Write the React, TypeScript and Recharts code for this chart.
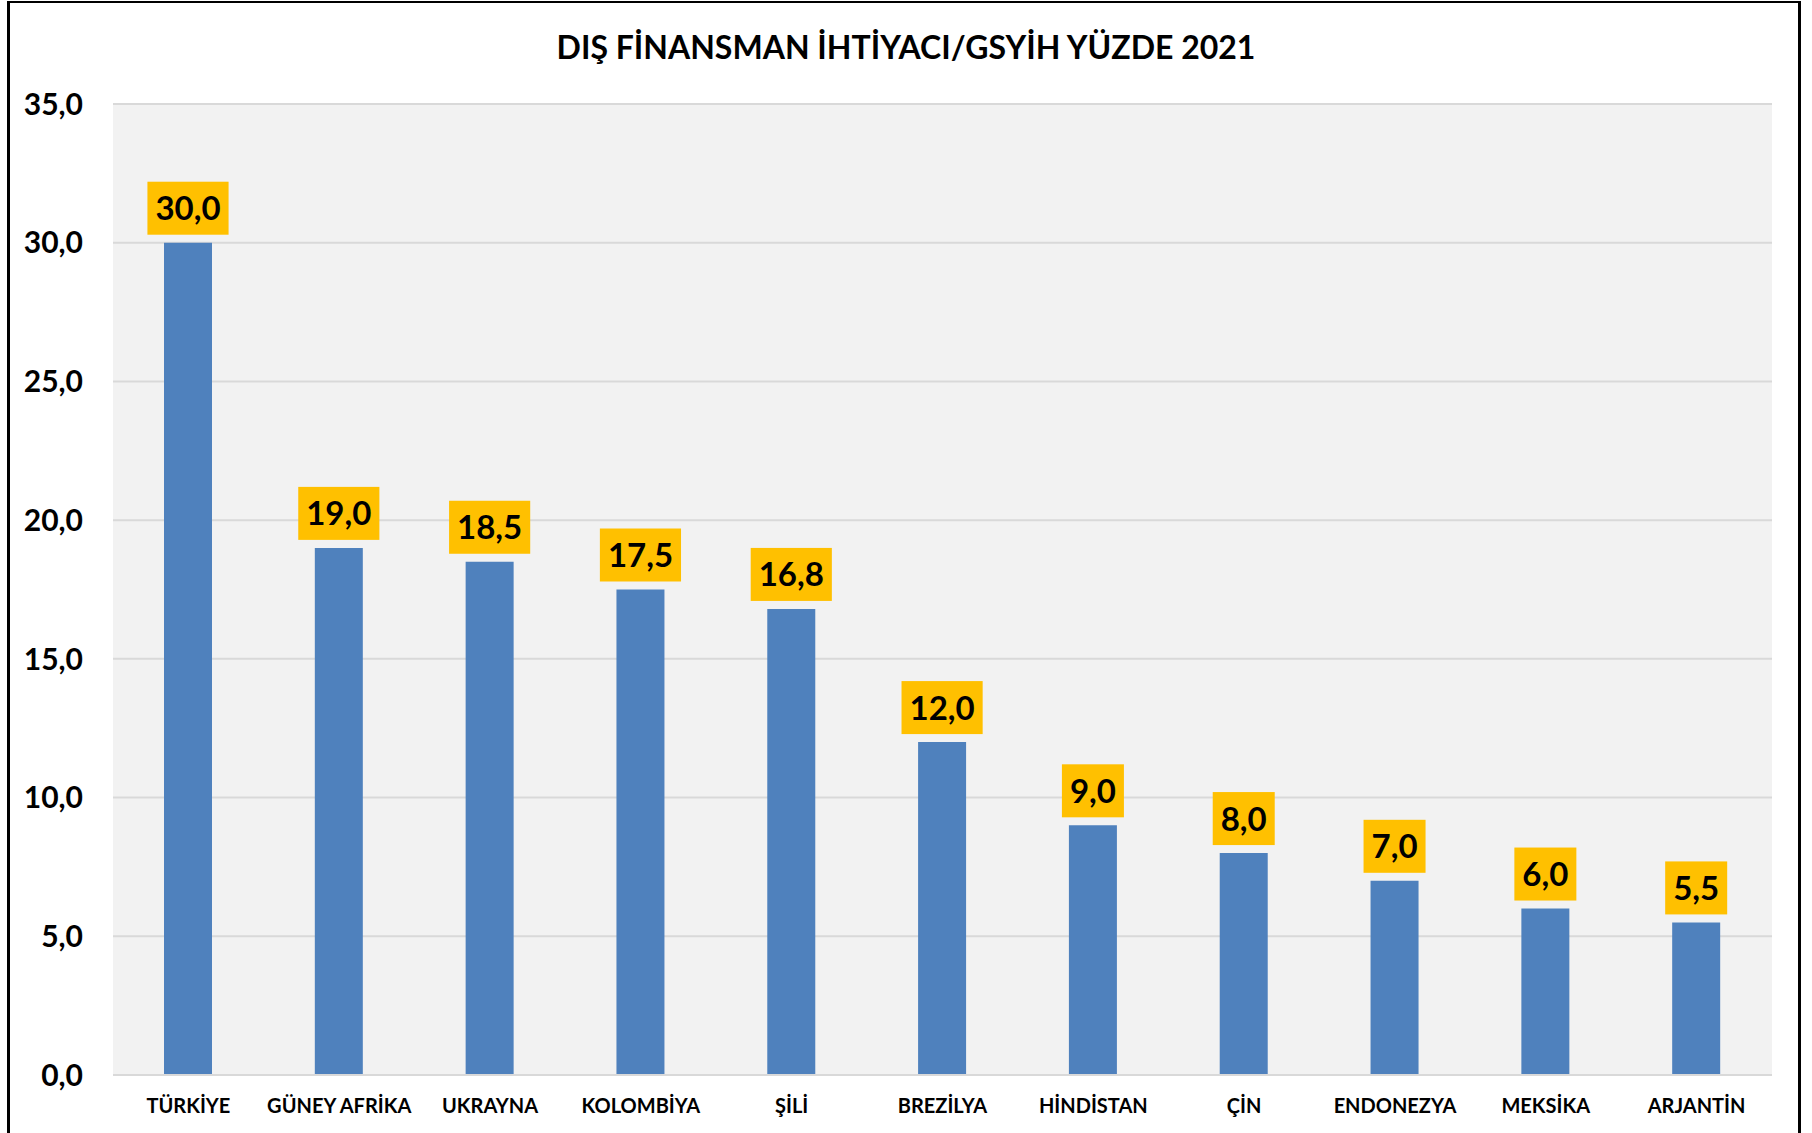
import { BarChart, Bar, XAxis, YAxis, CartesianGrid, LabelList } from "recharts";

const FONT = "Lato, 'Open Sans', sans-serif";

const countries = [
  "TÜRKİYE",
  "GÜNEY AFRİKA",
  "UKRAYNA",
  "KOLOMBİYA",
  "ŞİLİ",
  "BREZİLYA",
  "HİNDİSTAN",
  "ÇİN",
  "ENDONEZYA",
  "MEKSİKA",
  "ARJANTİN",
];
const financingNeed = [30.0, 19.0, 18.5, 17.5, 16.8, 12.0, 9.0, 8.0, 7.0, 6.0, 5.5];
const yTicks = [0, 5, 10, 15, 20, 25, 30, 35];

const data = countries.map((name, i) => ({ name, value: financingNeed[i] }));

const fmt = (v: number) => v.toFixed(1).replace(".", ",");

let ctx: CanvasRenderingContext2D | null = null;
function textWidth(s: string, font: string) {
  if (!ctx) ctx = document.createElement("canvas").getContext("2d");
  if (!ctx) return s.length * 17;
  ctx.font = font;
  return ctx.measureText(s).width;
}

// yellow badge above each bar
function ValueBadge(props: any) {
  const { x, y, width, value } = props;
  const label = fmt(Number(value));
  const w = textWidth(label, `700 33px ${FONT}`) + 16;
  const h = 53;
  const cx = Number(x) + Number(width) / 2;
  const bottom = Number(y) - 8;
  const mid = bottom - h / 2;
  return (
    <g>
      <rect x={cx - w / 2} y={bottom - h} width={w} height={h} fill="#FFC000" />
      <text
        x={cx}
        y={mid + 12}
        textAnchor="middle"
        fontFamily={FONT}
        fontWeight={700}
        fontSize={33}
        fill="#000"
      >
        {label}
      </text>
    </g>
  );
}

export default function App() {
  return (
    <div
      style={{
        position: "absolute",
        left: 0,
        top: 0,
        width: 1812,
        height: 1133,
        background: "#fff",
        overflow: "hidden",
      }}
    >
      <div
        style={{
          position: "absolute",
          left: 7,
          top: 1,
          width: 1794,
          height: 1200,
          boxSizing: "border-box",
          borderLeft: "3px solid #000",
          borderRight: "3px solid #000",
          borderTop: "2px solid #000",
        }}
      />
      <div
        style={{
          position: "absolute",
          left: 0,
          top: 27,
          width: 1812,
          textAlign: "center",
          fontFamily: FONT,
          fontWeight: 700,
          fontSize: 32,
          lineHeight: "40px",
          color: "#000",
        }}
      >
        DIŞ FİNANSMAN İHTİYACI/GSYİH YÜZDE 2021
      </div>
      <div style={{ position: "absolute", left: 0, top: 0 }}>
        <BarChart
          width={1812}
          height={1133}
          data={data}
          margin={{ top: 104, right: 40, bottom: 0, left: 0 }}
        >
          <CartesianGrid
            vertical={false}
            fill="#F2F2F2"
            stroke="#D9D9D9"
            strokeWidth={2}
          />
          <XAxis
            dataKey="name"
            interval={0}
            height={58}
            tickLine={false}
            tickSize={0}
            tickMargin={24}
            axisLine={{ stroke: "#D9D9D9", strokeWidth: 2 }}
            tick={{ fontSize: 20, fontWeight: 700, fill: "#000", fontFamily: FONT }}
          />
          <YAxis
            domain={[0, 35]}
            ticks={yTicks}
            interval={0}
            tickFormatter={(v: number) => fmt(v)}
            width={113}
            axisLine={false}
            tickLine={false}
            tickSize={0}
            tickMargin={30}
            tick={{ fontSize: 30, fontWeight: 700, fill: "#000", fontFamily: FONT }}
          />
          <Bar dataKey="value" fill="#4F81BD" barSize={48} isAnimationActive={false}>
            <LabelList dataKey="value" content={ValueBadge} />
          </Bar>
        </BarChart>
      </div>
    </div>
  );
}
